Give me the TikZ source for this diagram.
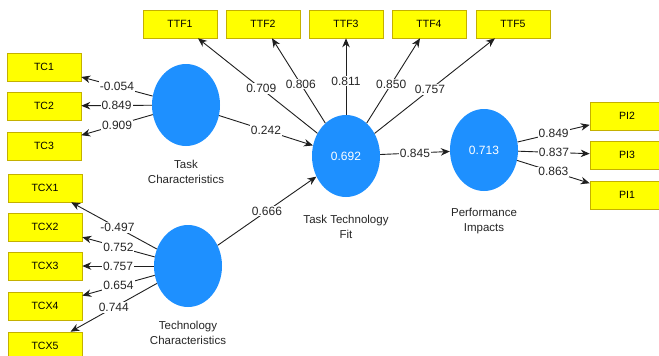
\documentclass[tikz,border=0pt]{standalone}
\usepackage{fontspec}
\setmainfont{Liberation Sans}
\usetikzlibrary{arrows.meta,shapes.geometric}
\definecolor{lvblue}{RGB}{30,144,255}
\definecolor{mvyellow}{RGB}{255,255,0}
\definecolor{mvedge}{RGB}{196,176,0}
\begin{document}
\begin{tikzpicture}[x=1pt,y=-1pt,
  indicator/.style={draw=mvedge, fill=mvyellow, line width=0.6pt,
    minimum width=74pt, minimum height=28pt, inner sep=0pt,
    font=\fontsize{10.5}{12}\selectfont},
  construct/.style={ellipse, fill=lvblue, minimum width=68pt,
    minimum height=82pt, inner sep=0pt, text=white,
    font=\fontsize{12}{14}\selectfont},
  caption/.style={align=center, font=\fontsize{11.5}{15}\selectfont,
    text=black!85},
  loading/.style={draw=black!88, line width=0.9pt,
    -{Stealth[length=9pt,width=7.5pt]}},
  coef/.style={fill=white, inner sep=1pt,
    font=\fontsize{12}{14}\selectfont, text=black!85},
]
\clip (0,0) rectangle (659,356);
\fill[white] (0,0) rectangle (659,356);

% latent constructs
\node[construct] (tc)  at (186,105) {};
\node[construct] (tcx) at (188,266) {};
\node[construct] (ttf) at (346,156) {0.692};
\node[construct] (pi)  at (484,150) {0.713};

% construct captions
\node[caption] at (186,172) {Task\\Characteristics};
\node[caption] at (188,333) {Technology\\Characteristics};
\node[caption] at (346,227) {Task Technology\\Fit};
\node[caption] at (484,221) {Performance\\Impacts};

% indicators
\node[indicator] (tc1) at (44,67)  {TC1};
\node[indicator] (tc2) at (44,106) {TC2};
\node[indicator] (tc3) at (44,146) {TC3};

\node[indicator] (tcx1) at (45,188) {TCX1};
\node[indicator] (tcx2) at (45,227) {TCX2};
\node[indicator] (tcx3) at (45,266) {TCX3};
\node[indicator] (tcx4) at (45,306) {TCX4};
\node[indicator] (tcx5) at (45,346) {TCX5};

\node[indicator] (ttf1) at (180,24) {TTF1};
\node[indicator] (ttf2) at (263,24) {TTF2};
\node[indicator] (ttf3) at (346,24) {TTF3};
\node[indicator] (ttf4) at (429,24) {TTF4};
\node[indicator] (ttf5) at (513,24) {TTF5};

\node[indicator] (pi2) at (627,116) {PI2};
\node[indicator] (pi3) at (627,155) {PI3};
\node[indicator] (pi1) at (627,195) {PI1};

% outer loadings
\draw[loading] (tc) -- node[coef]{-0.054} (tc1);
\draw[loading] (tc) -- node[coef]{0.849} (tc2);
\draw[loading] (tc) -- node[coef]{0.909} (tc3);

\draw[loading] (tcx) -- node[coef,pos=0.46]{-0.497} (tcx1);
\draw[loading] (tcx) -- node[coef]{0.752} (tcx2);
\draw[loading] (tcx) -- node[coef]{0.757} (tcx3);
\draw[loading] (tcx) -- node[coef]{0.654} (tcx4);
\draw[loading] (tcx) -- node[coef]{0.744} (tcx5);

\draw[loading] (ttf) -- node[coef,pos=0.47]{0.709} (ttf1);
\draw[loading] (ttf) -- node[coef,pos=0.46]{0.806} (ttf2);
\draw[loading] (ttf) -- node[coef,pos=0.44]{0.811} (ttf3);
\draw[loading] (ttf) -- node[coef,pos=0.46]{0.850} (ttf4);
\draw[loading] (ttf) -- node[coef,pos=0.46]{0.757} (ttf5);

\draw[loading] (pi) -- node[coef]{0.849} (pi2);
\draw[loading] (pi) -- node[coef]{0.837} (pi3);
\draw[loading] (pi) -- node[coef]{0.863} (pi1);

% structural paths
\draw[loading] (tc)  -- node[coef]{0.242} (ttf);
\draw[loading] (tcx) -- node[coef]{0.666} (ttf);
\draw[loading] (ttf) -- node[coef]{0.845} (pi);
\end{tikzpicture}
\end{document}
